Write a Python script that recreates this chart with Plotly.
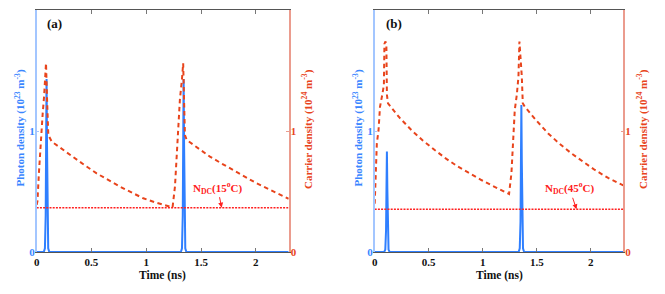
import plotly.graph_objects as go

# ---------------- data ----------------
# Panel (a)
photon_t_a = [0, 0.065, 0.075, 0.082, 0.086, 0.09, 0.094, 0.098, 0.105, 0.115,
              1.316, 1.326, 1.333, 1.337, 1.341, 1.345, 1.349, 1.356, 1.366, 2.3]
photon_a = [0, 0, 0.03, 0.3, 0.9, 1.43, 0.9, 0.3, 0.03, 0,
            0, 0.03, 0.3, 0.9, 1.43, 0.9, 0.3, 0.03, 0, 0]

carrier_t_a = [0, 0.007, 0.02, 0.036, 0.045, 0.055, 0.067, 0.076, 0.085, 0.095, 0.106,
               0.137, 0.23, 0.334, 0.44, 0.547, 0.65, 0.76, 0.87, 0.973, 1.1, 1.216, 1.24,
               1.262, 1.277, 1.292, 1.307, 1.325, 1.337, 1.345, 1.353,
               1.369, 1.475, 1.581, 1.69, 1.794, 1.9, 2.007, 2.15, 2.3]
carrier_a = [0.39, 0.42, 0.65, 0.93, 1.0, 1.15, 1.28, 1.42, 1.56, 1.25, 0.967,
             0.912, 0.85, 0.788, 0.716, 0.65, 0.595, 0.54, 0.49, 0.444, 0.405, 0.375, 0.369,
             0.54, 0.815, 1.035, 1.26, 1.42, 1.56, 1.25, 0.967,
             0.926, 0.855, 0.788, 0.73, 0.678, 0.62, 0.568, 0.505, 0.44]

ndc_a = 0.366
ndc_arrow_t_a = 1.688

# Panel (b)
photon_t_b = [0, 0.088, 0.098, 0.105, 0.109, 0.113, 0.117, 0.121, 0.128, 0.138,
              1.332, 1.342, 1.349, 1.353, 1.357, 1.361, 1.365, 1.372, 1.382, 2.3]
photon_b = [0, 0, 0.02, 0.18, 0.52, 0.83, 0.52, 0.18, 0.02, 0,
            0, 0.03, 0.25, 0.75, 1.215, 0.75, 0.25, 0.03, 0, 0]

carrier_t_b = [0, 0.01, 0.02, 0.035, 0.049, 0.07, 0.085, 0.09, 0.1, 0.108, 0.113, 0.123,
               0.23, 0.339, 0.447, 0.555, 0.663, 0.771, 0.879, 0.987, 1.095, 1.204, 1.243,
               1.265, 1.281, 1.296, 1.315, 1.33, 1.339, 1.35, 1.361, 1.37,
               1.389, 1.497, 1.605, 1.712, 1.82, 1.93, 2.037, 2.16, 2.3]
carrier_b = [0.40, 0.65, 0.9, 1.0, 1.2, 1.3, 1.38, 1.72, 1.74, 1.72, 1.3, 1.229,
             1.11, 1.008, 0.92, 0.843, 0.77, 0.705, 0.648, 0.595, 0.545, 0.498, 0.479,
             0.65, 0.926, 1.174, 1.3, 1.45, 1.74, 1.6, 1.45, 1.23,
             1.2, 1.085, 0.98, 0.893, 0.815, 0.745, 0.678, 0.612, 0.55]

ndc_b = 0.353
ndc_arrow_t_b = 1.867

x_ticks = [0, 0.5, 1, 1.5, 2]
x_ticktext = ["<b>0</b>", "<b>0.5</b>", "<b>1</b>", "<b>1.5</b>", "<b>2</b>"]
y_ticks = [0, 1, 2]
y_ticktext = ["<b>0</b>", "<b>1</b>", "<b>2</b>"]

# ---------------- styling ----------------
FONT = "Liberation Serif"
BLUE = "#2f7fff"
BLUE_TXT = "#3a86ff"
RED = "#e8441c"
NDC_RED = "#ff2020"
BLUE_AX = "#a3c6ff"
RED_AX = "#eb9c8e"
# page body has an 8px margin: size the figure to fit the 665x294 window
OFF = 8
W, H = 665 - OFF, 294 - OFF

def px_x(p):
    return (p - OFF) / W

def px_y(p):
    return 1 - (p - OFF) / H

fig = go.Figure()

panels = [
    dict(x="x", yl="y", yr="y2", pt=photon_t_a, p=photon_a, ct=carrier_t_a, c=carrier_a, ndc=ndc_a),
    dict(x="x2", yl="y3", yr="y4", pt=photon_t_b, p=photon_b, ct=carrier_t_b, c=carrier_b, ndc=ndc_b),
]
for pn in panels:
    fig.add_trace(go.Scatter(x=pn["pt"], y=pn["p"], mode="lines", xaxis=pn["x"], yaxis=pn["yl"],
                             line=dict(color=BLUE, width=2), hoverinfo="skip"))
    fig.add_trace(go.Scatter(x=pn["ct"], y=pn["c"], mode="lines", xaxis=pn["x"], yaxis=pn["yr"],
                             line=dict(color=RED, width=2, dash="4.5px,3.5px"), hoverinfo="skip"))
    fig.add_trace(go.Scatter(x=[0, 2.3], y=[pn["ndc"], pn["ndc"]], mode="lines", xaxis=pn["x"], yaxis=pn["yr"],
                             line=dict(color=NDC_RED, width=1.5, dash="2px,1.2px"), hoverinfo="skip"))

ydom = [px_y(252), px_y(10)]
xdom_a = [px_x(36.7), px_x(288.7)]
xdom_b = [px_x(374.7), px_x(623.3)]

def xax(dom, anchor):
    return dict(domain=dom, anchor=anchor, range=[0, 2.3], tickvals=x_ticks, ticktext=x_ticktext,
                ticks="inside", ticklen=4, tickcolor="#777", showline=True, linecolor="#555",
                linewidth=1, mirror="ticks", showgrid=False, zeroline=False, automargin=False,
                tickfont=dict(family=FONT, size=11, color="#111"))

def yax(anchor, side, color_line, color_txt, overlaying=None):
    d = dict(domain=ydom, anchor=anchor, range=[0, 2], tickvals=y_ticks, ticktext=y_ticktext,
             ticks="inside", ticklen=3, tickcolor=color_line, showline=True, linecolor=color_line,
             linewidth=1.5, showgrid=False, zeroline=False, side=side, automargin=False,
             ticklabelstandoff=-2,
             tickfont=dict(family=FONT, size=11, color=color_txt))
    if overlaying:
        d["overlaying"] = overlaying
    return d

fig.update_layout(
    template="none",
    width=W, height=H,
    margin=dict(l=0, r=0, t=0, b=0, pad=0),
    paper_bgcolor="white", plot_bgcolor="white",
    showlegend=False,
    font=dict(family=FONT),
    xaxis=xax(xdom_a, "y"),
    yaxis=yax("x", "left", BLUE_AX, BLUE_TXT),
    yaxis2=yax("x", "right", RED_AX, RED, overlaying="y"),
    xaxis2=xax(xdom_b, "y3"),
    yaxis3=yax("x2", "left", BLUE_AX, BLUE_TXT),
    yaxis4=yax("x2", "right", RED_AX, RED, overlaying="y3"),
)

annots = []
tfont = dict(family=FONT, size=11)
for xl, xr, xc, lab, labx in [(19.5, 307.0, 162.7, "a", 45.0), (357.5, 642.0, 499.0, "b", 384.0)]:
    annots.append(dict(xref="paper", yref="paper", x=px_x(xl), y=px_y(128), textangle=-90,
                       text="<b>Photon density (10<sup>23</sup> m<sup>-3</sup>)</b>", showarrow=False,
                       font=dict(tfont, color=BLUE_TXT), xanchor="center", yanchor="middle"))
    annots.append(dict(xref="paper", yref="paper", x=px_x(xr), y=px_y(129), textangle=-90,
                       text="<b>Carrier density (10<sup>24</sup> m<sup>-3</sup>)</b>", showarrow=False,
                       font=dict(tfont, color=RED), xanchor="center", yanchor="middle"))
    annots.append(dict(xref="paper", yref="paper", x=px_x(xc), y=px_y(275.5),
                       text="<b>Time (ns)</b>", showarrow=False,
                       font=dict(family=FONT, size=11.5, color="#111"), xanchor="center", yanchor="middle"))
    annots.append(dict(xref="paper", yref="paper", x=px_x(labx), y=px_y(24),
                       text="<b>(" + lab + ")</b>", showarrow=False,
                       font=dict(family=FONT, size=13, color="#111"),
                       xanchor="left", yanchor="middle"))

annots.append(dict(xref="x", yref="y2", x=ndc_arrow_t_a, y=ndc_a, ax=-4, ay=-20,
                   text="<b>N<sub>DC</sub>(15<sup>o</sup>C)</b>", showarrow=True, arrowhead=2,
                   arrowsize=1, arrowwidth=1, arrowcolor=NDC_RED,
                   font=dict(family=FONT, size=11, color=NDC_RED)))
annots.append(dict(xref="x2", yref="y4", x=ndc_arrow_t_b, y=ndc_b, ax=-7, ay=-21,
                   text="<b>N<sub>DC</sub>(45<sup>o</sup>C)</b>", showarrow=True, arrowhead=2,
                   arrowsize=1, arrowwidth=1, arrowcolor=NDC_RED,
                   font=dict(family=FONT, size=11, color=NDC_RED)))

fig.update_layout(annotations=annots)
fig.write_html("out.html")
